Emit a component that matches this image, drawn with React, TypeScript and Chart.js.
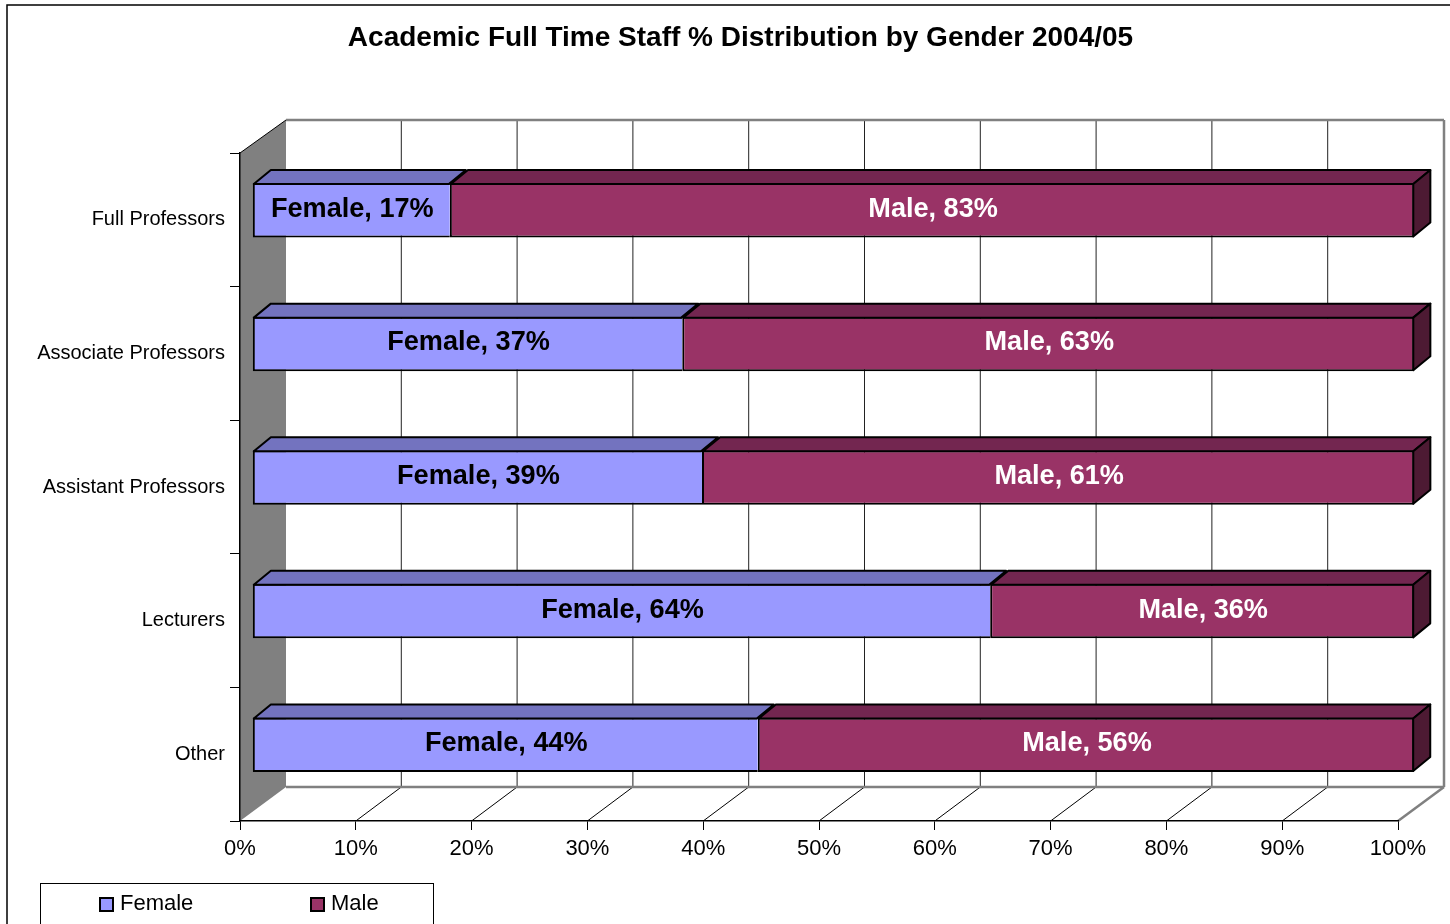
import React, { useEffect, useRef } from "react";
import { Chart, registerables } from "chart.js";

Chart.register(...registerables);

const categories = ["Full Professors", "Associate Professors", "Assistant Professors", "Lecturers", "Other"];
const femaleValues = [17.0, 37.0, 38.7, 63.5, 43.5];
const maleValues = [83.0, 63.0, 61.3, 36.49, 56.49];
const titleText = "Academic Full Time Staff % Distribution by Gender 2004/05";
const FONT = '"Liberation Sans", Arial, sans-serif';

const colors = {
  Female: { front: "#9999FF", top: "#7373BF" },
  Male: { front: "#993366", top: "#732650", side: "#4D1A33" },
};
const WALL = { dx: 46, dyTop: -33, dyBottom: -34 };
const BAR_STRETCH = 1162 / 1158;
const BAR_LEFT = 252.3;
const BAR_SHIFT_Y = -9.5;
const BAR_DEPTH = { dx: 17, dy: -14 };

function poly(ctx: CanvasRenderingContext2D, pts: number[][], fill?: string, stroke?: string, lw = 1) {
  ctx.beginPath();
  pts.forEach((p, i) => (i ? ctx.lineTo(p[0], p[1]) : ctx.moveTo(p[0], p[1])));
  ctx.closePath();
  if (fill) {
    ctx.fillStyle = fill;
    ctx.fill();
  }
  if (stroke) {
    ctx.strokeStyle = stroke;
    ctx.lineWidth = lw;
    ctx.lineJoin = "round";
    ctx.stroke();
  }
}

function line(ctx: CanvasRenderingContext2D, x0: number, y0: number, x1: number, y1: number, c: string, lw = 1) {
  ctx.beginPath();
  ctx.moveTo(x0, y0);
  ctx.lineTo(x1, y1);
  ctx.strokeStyle = c;
  ctx.lineWidth = lw;
  ctx.stroke();
}

const framePlugin = {
  id: "frame3d",
  afterLayout(chart: any) {
    // the title is centred on the whole chart, not on the part left of the right padding
    if (chart.titleBlock) {
      chart.titleBlock.left = 0;
      chart.titleBlock.right = chart.width;
    }
  },
  beforeDraw(chart: any) {
    const { ctx, chartArea: a, scales } = chart;
    const { dx, dyTop, dyBottom } = WALL;
    const wallTop = a.top + dyTop;
    const wallBottom = a.bottom + dyBottom;
    ctx.save();
    ctx.fillStyle = "#FFFFFF";
    ctx.fillRect(0, 0, chart.width, chart.height);
    // outer chart border
    ctx.strokeStyle = "#000000";
    ctx.lineWidth = 1.5;
    ctx.strokeRect(7, 5, chart.width + 20, chart.height + 20);
    // back wall gridlines and floor lines
    scales.x.ticks.forEach((t: any) => {
      const x = scales.x.getPixelForValue(t.value);
      if (t.value > 0 && t.value < 100) {
        line(ctx, x + dx - 0.5, wallTop, x + dx - 0.5, wallBottom, "#222222", 1);
        line(ctx, x, a.bottom, x + dx - 0.5, wallBottom, "#000000", 1);
      }
    });
    // back wall edges
    line(ctx, a.left + dx, wallTop, a.right + dx, wallTop, "#808080", 2.5);
    line(ctx, a.right + dx, wallTop, a.right + dx, wallBottom, "#808080", 2.5);
    line(ctx, a.left + dx, wallBottom, a.right + dx, wallBottom, "#808080", 2.5);
    line(ctx, a.right, a.bottom, a.right + dx, wallBottom, "#808080", 2.5);
    // side wall
    poly(ctx, [
      [a.left, a.top],
      [a.left + dx, wallTop],
      [a.left + dx, wallBottom],
      [a.left, a.bottom],
    ], "#808080");
    line(ctx, a.left, a.top, a.left + dx, wallTop, "#000000", 1);
    ctx.restore();
  },
  beforeDatasetsDraw(chart: any) {
    const ctx = chart.ctx;
    ctx.save();
    // move the bars from the front frame onto their plane inside the 3D box
    ctx.transform(BAR_STRETCH, 0, 0, 1, BAR_LEFT - chart.chartArea.left * BAR_STRETCH, BAR_SHIFT_Y);
  },
  afterDatasetsDraw(chart: any) {
    const ctx = chart.ctx;
    // still on the bar plane
    const { dx, dy } = BAR_DEPTH;
    chart.data.datasets.forEach((ds: any, di: number) => {
      const meta = chart.getDatasetMeta(di);
      const pal = (colors as any)[ds.label];
      meta.data.forEach((el: any) => {
        const { x, base, y, height } = el.getProps(["x", "base", "y", "height"], true);
        const l = base + 1;
        const r = x - 1;
        const t = y - height / 2 + 1;
        const b = y + height / 2 - 1;
        poly(ctx, [[l, t], [r, t], [r + dx, t + dy], [l + dx, t + dy]], pal.top, "#000000", 2);
        if (pal.side) {
          poly(ctx, [[r, t], [r + dx, t + dy], [r + dx, b + dy], [r, b]], pal.side, "#000000", 2);
        }
      });
    });
    // value labels
    ctx.font = `bold 27px ${FONT}`;
    ctx.textAlign = "center";
    ctx.textBaseline = "middle";
    chart.data.datasets.forEach((ds: any, di: number) => {
      const meta = chart.getDatasetMeta(di);
      ctx.fillStyle = ds.label === "Male" ? "#FFFFFF" : "#000000";
      meta.data.forEach((el: any, i: number) => {
        const { x, base, y } = el.getProps(["x", "base", "y"], true);
        ctx.fillText(`${ds.label}, ${Math.round(ds.data[i])}%`, (x + base) / 2 + 1, y - 1);
      });
    });
    ctx.restore();
  },
  afterDraw(chart: any) {
    const ctx = chart.ctx;
    ctx.save();
    // legend box
    ctx.fillStyle = "#FFFFFF";
    ctx.strokeStyle = "#000000";
    ctx.lineWidth = 1;
    ctx.fillRect(40.5, 883.5, 393, 60);
    ctx.strokeRect(40.5, 883.5, 393, 60);
    ctx.font = `22px ${FONT}`;
    ctx.textAlign = "left";
    ctx.textBaseline = "middle";
    const xs = [100, 311];
    chart.data.datasets.forEach((ds: any, i: number) => {
      ctx.fillStyle = ds.backgroundColor;
      ctx.fillRect(xs[i], 898, 13, 13);
      ctx.strokeStyle = "#000000";
      ctx.lineWidth = 2;
      ctx.strokeRect(xs[i], 898, 13, 13);
      ctx.fillStyle = "#000000";
      ctx.fillText(ds.label, xs[i] + 20, 904);
    });
    ctx.restore();
  },
};

export default function App() {
  const ref = useRef<HTMLCanvasElement>(null);
  useEffect(() => {
    document.body.style.margin = "0";
    const chart = new Chart(ref.current as HTMLCanvasElement, {
      type: "bar",
      data: {
        labels: categories,
        datasets: [
          { label: "Female", data: femaleValues, backgroundColor: colors.Female.front, borderColor: "#000000", borderWidth: 2, borderSkipped: "right", clip: false } as any,
          { label: "Male", data: maleValues, backgroundColor: colors.Male.front, borderColor: "#000000", borderWidth: 2, borderSkipped: false, clip: false } as any,
        ],
      },
      options: {
        indexAxis: "y",
        animation: false,
        responsive: false,
        devicePixelRatio: 1,
        layout: { padding: { left: 0, top: 0, right: 83, bottom: 0 } },
        categoryPercentage: 0.408,
        barPercentage: 1,
        scales: {
          x: {
            type: "linear",
            stacked: true,
            min: 0,
            max: 100,
            afterFit: (s: any) => { s.height = 1000 - 821; },
            ticks: {
              stepSize: 10,
              callback: (v: any) => `${v}%`,
              color: "#000000",
              font: { family: FONT, size: 22 },
              padding: 6,
              maxRotation: 0,
              autoSkip: false,
            },
            grid: { drawOnChartArea: false, color: "#000000", tickLength: 9, tickColor: "#000000" },
            border: { display: true, color: "#000000", width: 1.5 },
          },
          y: {
            type: "category",
            stacked: true,
            afterFit: (s: any) => { s.width = 240; },
            ticks: {
              color: "#000000",
              font: { family: FONT, size: 20 },
              padding: 5,
              autoSkip: false,
            },
            grid: { drawOnChartArea: false, color: "#000000", tickLength: 10, tickColor: "#000000" },
            border: { display: true, color: "#000000", width: 1.5 },
          },
        } as any,
        plugins: {
          legend: { display: false },
          tooltip: { enabled: false },
          title: {
            display: true,
            text: titleText,
            color: "#000000",
            font: { family: FONT, size: 28, weight: "bold", lineHeight: 1 },
            padding: { top: 24, bottom: 101 },
          },
        },
      } as any,
      plugins: [framePlugin as any],
    });
    return () => chart.destroy();
  }, []);
  return (
    <div style={{ position: "fixed", left: 0, top: 0, width: 1450, height: 924, overflow: "hidden", background: "#fff" }}>
      <canvas ref={ref} width={1481} height={1000} style={{ display: "block" }} />
    </div>
  );
}
